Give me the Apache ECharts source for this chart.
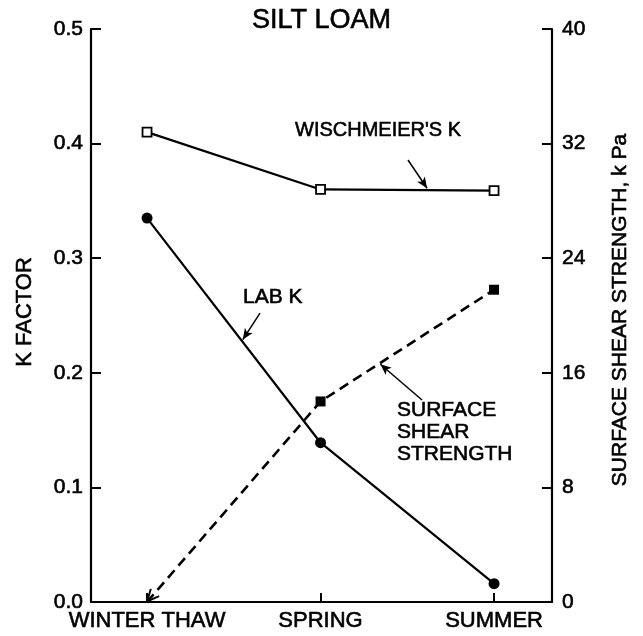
<!DOCTYPE html>
<html>
<head>
<meta charset="utf-8">
<script src="https://cdn.jsdelivr.net/npm/echarts@6/dist/echarts.min.js"></script>
<style>html,body{margin:0;padding:0;background:#fff}#c{width:643px;height:636px}</style>
</head>
<body>
<div id="c"></div>
<script>
var categories = ['WINTER THAW', 'SPRING', 'SUMMER'];
var wischmeierK = [0.410, 0.360, 0.359];
var labK = [0.335, 0.139, 0.016];
var shearStrength = [0, 14.0, 21.8];
var leftTicks = [0, 0.1, 0.2, 0.3, 0.4, 0.5];
var rightTicks = [0, 8, 16, 24, 32, 40];

var FONT = '"Liberation Sans", Arial, Helvetica, sans-serif';
var chart = echarts.init(document.getElementById('c'));

function pts(arr) { return arr.map(function (v, i) { return [i, v]; }); }

var arrowStyle = { color: '#000', width: 1.5, type: 'solid' };
function arrow(p0, p1) {
  return {
    silent: true, symbol: ['none', 'arrow'], symbolSize: [7, 11],
    label: { show: false }, lineStyle: arrowStyle, animation: false,
    data: [[{ coord: p0 }, { coord: p1 }]]
  };
}

var shearData = pts(shearStrength);
shearData[0] = {
  value: shearData[0],
  symbol: 'path://M0,0L6,11L12,0',
  symbolSize: [11, 12],
  symbolRotate: -41,
  symbolOffset: [4, -5],
  itemStyle: { color: 'rgba(0,0,0,0)', borderColor: '#000', borderWidth: 2 }
};

var txt = { textBorderColor: '#000', textBorderWidth: 0.6 };
function T(o) { return Object.assign({ fill: '#000', stroke: '#000', lineWidth: 0.6 }, o); }

chart.setOption({
  animation: false,
  backgroundColor: '#fff',
  grid: { left: 91, right: 91, top: 29, bottom: 34 },
  xAxis: {
    type: 'value', min: -0.323, max: 2.334,
    axisLine: { show: true, onZero: false, lineStyle: { color: '#000', width: 2.2 } },
    axisTick: { show: true, inside: true, length: 9, lineStyle: { color: '#000', width: 2 }, customValues: [0, 1, 2] },
    axisLabel: Object.assign({ color: '#000', fontSize: 22, fontFamily: FONT, margin: 8, customValues: [0, 1, 2],
      formatter: function (v) { return categories[Math.round(v)] || ''; } }, txt),
    splitLine: { show: false }
  },
  yAxis: [{
    type: 'value', min: 0, max: 0.5, interval: 0.1, position: 'left',
    axisLine: { show: true, onZero: false, lineStyle: { color: '#000', width: 2.2 } },
    axisTick: { show: true, inside: true, length: 10, lineStyle: { color: '#000', width: 2 } },
    axisLabel: Object.assign({ color: '#000', fontSize: 21, fontFamily: FONT, margin: 8,
      formatter: function (v) { return v.toFixed(1); } }, txt),
    splitLine: { show: false }
  }, {
    type: 'value', min: 0, max: 40, interval: 8, position: 'right',
    axisLine: { show: true, onZero: false, lineStyle: { color: '#000', width: 2.2 } },
    axisTick: { show: true, inside: true, length: 10, lineStyle: { color: '#000', width: 2 } },
    axisLabel: Object.assign({ color: '#000', fontSize: 21, fontFamily: FONT, margin: 10 }, txt),
    splitLine: { show: false }
  }],
  series: [{
    name: "WISCHMEIER'S K", type: 'line', yAxisIndex: 0, data: pts(wischmeierK),
    symbol: 'rect', symbolSize: 9, showAllSymbol: true,
    itemStyle: { color: '#fff', borderColor: '#000', borderWidth: 1.8 },
    lineStyle: { color: '#000', width: 2.2 },
    markLine: arrow([1.504, 0.3857], [1.614, 0.361])
  }, {
    name: 'LAB K', type: 'line', yAxisIndex: 0, data: pts(labK),
    symbol: 'circle', symbolSize: 11,
    itemStyle: { color: '#000' },
    lineStyle: { color: '#000', width: 2.2 },
    markLine: arrow([0.651, 0.252], [0.552, 0.229])
  }, {
    name: 'SURFACE SHEAR STRENGTH', type: 'line', yAxisIndex: 1, data: shearData,
    symbol: 'rect', symbolSize: 10,
    itemStyle: { color: '#000' },
    lineStyle: { color: '#000', width: 2.6, type: [10, 6] },
    markLine: arrow([1.585, 14.1], [1.345, 16.6])
  }],
  graphic: [
    { type: 'text', left: 'center', top: 7, style: T({ text: 'SILT LOAM', font: '27px ' + FONT }) },
    { type: 'text', x: 295, y: 130, style: T({ text: "WISCHMEIER'S K", font: '20px ' + FONT, verticalAlign: 'middle' }) },
    { type: 'text', x: 243, y: 297, style: T({ text: 'LAB K', font: '21px ' + FONT, verticalAlign: 'middle' }) },
    { type: 'text', x: 397, y: 410, style: T({ text: 'SURFACE', font: '21px ' + FONT, verticalAlign: 'middle' }) },
    { type: 'text', x: 397, y: 432, style: T({ text: 'SHEAR', font: '21px ' + FONT, verticalAlign: 'middle' }) },
    { type: 'text', x: 397, y: 454, style: T({ text: 'STRENGTH', font: '21px ' + FONT, verticalAlign: 'middle' }) },
    { type: 'text', x: 25, y: 312, rotation: Math.PI / 2, style: T({ text: 'K FACTOR', font: '22px ' + FONT, align: 'center', verticalAlign: 'middle' }) },
    { type: 'text', x: 620, y: 310, rotation: Math.PI / 2, style: T({ text: 'SURFACE SHEAR STRENGTH, k Pa', font: '21px ' + FONT, align: 'center', verticalAlign: 'middle' }) }
  ]
});
</script>
</body>
</html>
